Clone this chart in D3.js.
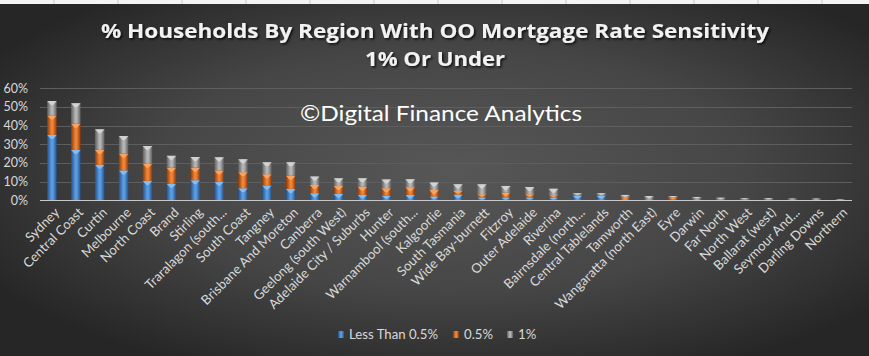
<!DOCTYPE html>
<html>
<head>
<meta charset="utf-8">
<script src="https://cdn.jsdelivr.net/npm/d3@7"></script>
<style>
html,body{margin:0;padding:0;background:#333;}
svg{display:block;}
</style>
</head>
<body>
<svg id="chart" width="869" height="356"></svg>
<script>
const categories = ["Sydney","Central Coast","Curtin","Melbourne","North Coast","Brand","Stirling","Traralagon (south...","South Coast","Tangney","Brisbane And Moreton","Canberra","Geelong (south West)","Adelaide City / Suburbs","Hunter","Warnambool (south...","Kalgoorlie","South Tasmania","Wide Bay-burnett","Fitzroy","Outer Adelaide","Riverina","Bairnsdale (north...","Central Tablelands","Tamworth","Wangaratta (north East)","Eyre","Darwin","Far North","North West","Ballarat (west)","Seymour And...","Darling Downs","Northern"];
const lessThanHalf = [35.0,27.0,19.0,16.0,10.4,8.8,10.7,10.0,6.4,7.9,6.1,3.8,3.4,2.9,2.5,2.9,2.0,3.0,1.4,1.4,1.4,1.3,2.4,2.4,0.5,0.3,0.3,0.2,0.2,0.2,0.2,0.1,0.1,0.1];
const half = [10.4,14.0,8.0,9.0,9.2,8.7,6.8,6.0,8.6,6.0,7.1,4.4,4.3,4.4,3.9,4.1,3.5,2.0,1.8,2.7,1.8,1.4,0.3,0.3,1.0,0.4,1.2,0.6,0.3,0.2,0.4,0.5,0.5,0.1];
const one = [7.8,11.0,11.0,9.4,9.5,6.3,5.7,7.0,7.0,6.5,7.2,4.5,4.1,4.5,4.8,4.3,4.1,3.6,5.4,3.6,3.9,3.5,1.1,1.1,1.4,1.6,0.8,1.0,0.9,0.7,0.6,0.3,0.3,0.3];
const seriesNames = ["Less Than 0.5%","0.5%","1%"];
const yTicks = [0,10,20,30,40,50,60];

const W = 869, H = 356;
const FONT = "Lato, 'Open Sans', sans-serif";
const svg = d3.select("#chart");
const defs = svg.append("defs");

// background
const bg = defs.append("radialGradient").attr("id","bg").attr("cx","52%").attr("cy","48%").attr("r","62%");
bg.append("stop").attr("offset","0%").attr("stop-color","#575757");
bg.append("stop").attr("offset","55%").attr("stop-color","#464646");
bg.append("stop").attr("offset","100%").attr("stop-color","#262626");
svg.append("rect").attr("width",W).attr("height",H).attr("fill","url(#bg)");

// excel strip at top
svg.append("rect").attr("x",0).attr("y",0).attr("width",W).attr("height",4).attr("fill","#f4f4f4");
d3.range(54, W, 64).forEach(x => {
  svg.append("line").attr("x1",x).attr("x2",x).attr("y1",0).attr("y2",4).attr("stroke","#c8c8c8").attr("stroke-width",1);
});

// shadow filter for title
const f = defs.append("filter").attr("id","shadow").attr("x","-5%").attr("y","-20%").attr("width","110%").attr("height","150%");
f.append("feDropShadow").attr("dx",1.5).attr("dy",1.5).attr("stdDeviation",1).attr("flood-color","#000").attr("flood-opacity",0.8);

// series gradients
const palettes = [
  {edge:"#24508a", mid:"#5a9ce0", top:"#8cc0f0"},
  {edge:"#8a3a0c", mid:"#ef8434", top:"#f6a868"},
  {edge:"#5e5e5e", mid:"#b4b4b4", top:"#d6d6d6"}
];
palettes.forEach((p,i) => {
  const g = defs.append("linearGradient").attr("id","g"+i).attr("x1","0%").attr("x2","100%").attr("y1","0%").attr("y2","0%");
  g.append("stop").attr("offset","0%").attr("stop-color",p.edge);
  g.append("stop").attr("offset","45%").attr("stop-color",p.mid);
  g.append("stop").attr("offset","60%").attr("stop-color",p.mid);
  g.append("stop").attr("offset","100%").attr("stop-color",p.edge);
});

// scales
const x = d3.scaleBand().domain(categories).range([40, 852]).paddingInner(0.6).paddingOuter(0.3);
const y = d3.scaleLinear().domain([0, 60]).range([200.3, 88.3]);

// gridlines
svg.append("g").selectAll("line").data(yTicks.slice(1)).join("line")
  .attr("x1",40).attr("x2",852)
  .attr("y1",d=>Math.round(y(d))+0.5).attr("y2",d=>Math.round(y(d))+0.5)
  .attr("stroke","#5e5e5e").attr("stroke-width",1);

// y axis labels
const yAxis = d3.axisLeft(y).tickValues(yTicks).tickFormat(d=>d+"%").tickSize(0).tickPadding(0);
const ya = svg.append("g").attr("transform","translate(28,0)").call(yAxis);
ya.select(".domain").remove();
ya.selectAll("text").attr("fill","#d9d9d9").attr("font-family",FONT).attr("font-size",12.5);

// stacked data
const rows = categories.map((c,i)=>({cat:c, s0:lessThanHalf[i], s1:half[i], s2:one[i]}));
const stack = d3.stack().keys(["s0","s1","s2"])(rows);

const bw = x.bandwidth();
stack.forEach((layer, li) => {
  const g = svg.append("g");
  layer.forEach(d => {
    const x0 = x(d.data.cat);
    const yTop = y(d[1]), yBot = y(d[0]);
    const h = yBot - yTop;
    if (h <= 0) return;
    g.append("rect").attr("x",x0).attr("y",yTop).attr("width",bw).attr("height",h).attr("fill","url(#g"+li+")");
    const th = Math.min(4, h*0.6);
    g.append("path")
      .attr("d", `M${x0},${yTop} L${x0+bw},${yTop} L${x0+bw*0.62},${yTop+th} L${x0+bw*0.38},${yTop+th} Z`)
      .attr("fill", palettes[li].top).attr("opacity",0.9);
  });
});

// x axis line
svg.append("line").attr("x1",40).attr("x2",852).attr("y1",200.5).attr("y2",200.5).attr("stroke","#c8c8c8").attr("stroke-width",1.2);

// x labels
svg.append("g").selectAll("text").data(categories).join("text")
  .attr("transform", d => `translate(${x(d)+bw/2+5},${210}) rotate(-45)`)
  .attr("text-anchor","end").attr("dy","0.35em")
  .attr("fill","#d9d9d9").attr("font-family",FONT).attr("font-size",13.2)
  .text(d=>d);

// title
const title = svg.append("g").attr("filter","url(#shadow)").attr("fill","#f2f2f2")
  .attr("font-family","'Open Sans', Lato, sans-serif").attr("font-weight","bold").attr("font-size",19.5).attr("text-anchor","middle");
title.append("text").attr("x",435).attr("y",38).attr("textLength",668).attr("lengthAdjust","spacingAndGlyphs")
  .text("% Households By Region With OO Mortgage Rate Sensitivity");
title.append("text").attr("x",435).attr("y",66).attr("textLength",140).attr("lengthAdjust","spacingAndGlyphs").text("1% Or Under");

// watermark
svg.append("text").attr("x",441).attr("y",121).attr("text-anchor","middle")
  .attr("fill","#ffffff").attr("font-family",FONT).attr("font-size",22)
  .attr("textLength",282).attr("lengthAdjust","spacingAndGlyphs")
  .text("©Digital Finance Analytics");

// legend
const legendX = [338, 453, 507];
const legend = svg.append("g");
seriesNames.forEach((n,i) => {
  const g = legend.append("g").attr("transform",`translate(${legendX[i]},331)`);
  g.append("rect").attr("x",0).attr("y",0).attr("width",6).attr("height",7).attr("fill","url(#g"+i+")");
  g.append("text").attr("x",11).attr("y",3.5).attr("dy","0.35em")
    .attr("fill","#d9d9d9").attr("font-family",FONT).attr("font-size",13.2).text(n);
});
</script>
</body>
</html>
